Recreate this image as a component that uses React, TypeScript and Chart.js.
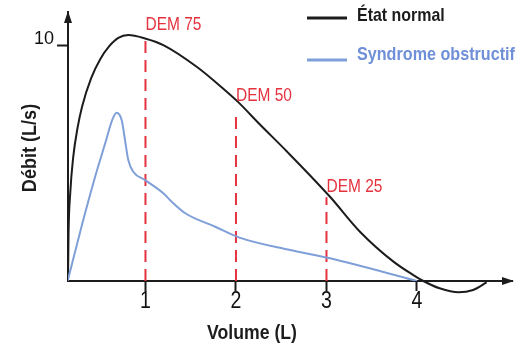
import React, { useEffect, useRef } from 'react';
import { Chart, registerables } from 'chart.js';

Chart.register(...registerables);

// Normal flow-volume curve (Volume L, Débit L/s)
const normalX = [0.144, 0.15, 0.17, 0.2, 0.25, 0.3, 0.4, 0.5, 0.6, 0.7, 0.81, 0.995, 1.197, 1.566, 1.86, 2.025, 2.265, 2.56, 3.039, 3.37, 3.74, 3.96, 4.07, 4.25, 4.46, 4.62, 4.77];
const normalY = [0, 2.0, 3.8, 5.2, 6.5, 7.4, 8.6, 9.4, 9.95, 10.3, 10.42, 10.28, 10.0, 9.08, 8.15, 7.58, 6.63, 5.5, 3.57, 2.09, 0.82, 0.25, 0, -0.31, -0.48, -0.38, -0.06];

// Obstructive syndrome curve
const obstrX = [0.14, 0.3, 0.45, 0.56, 0.63, 0.68, 0.737, 0.774, 0.81, 0.865, 0.995, 1.197, 1.29, 1.44, 1.77, 2.03, 2.6, 3.04, 4.0];
const obstrY = [0, 2.4, 4.5, 5.9, 6.8, 7.13, 6.82, 5.97, 5.13, 4.63, 4.28, 3.72, 3.36, 2.87, 2.3, 1.85, 1.31, 0.96, 0];

// DEM markers
const demLabels = ['DEM 75', 'DEM 50', 'DEM 25'];
const demX = [1, 2, 3];
const demTopY = [10.25, 7.25, 3.55];
const demLabelY = [10.64, 7.64, 3.78];

// Axis ticks
const xTicks = [1, 2, 3, 4];
const yTicks = [10];

const legendLabels = ['État normal', 'Syndrome obstructif'];
const xTitle = 'Volume (L)';
const yTitle = 'Débit (L/s)';

const FONT = "'Liberation Sans', Arial, sans-serif";
const BLACK = '#1c1c1c';
const BLUE = '#7f9fd9';
const BLUE_TEXT = '#6f8fd8';
const RED = '#e5323f';

function drawText(
  ctx: CanvasRenderingContext2D,
  text: string,
  x: number,
  y: number,
  font: string,
  color: string,
  align: CanvasTextAlign,
  baseline: CanvasTextBaseline,
  sx: number,
  rotate = 0
) {
  ctx.save();
  ctx.translate(x, y);
  if (rotate) ctx.rotate(rotate);
  ctx.scale(sx, 1);
  ctx.font = font;
  ctx.fillStyle = color;
  ctx.textAlign = align;
  ctx.textBaseline = baseline;
  ctx.fillText(text, 0, 0);
  ctx.restore();
}

export default function App() {
  const ref = useRef<HTMLCanvasElement | null>(null);

  useEffect(() => {
    if (!ref.current) return;
    const demDatasets = demX.map((x, i) => ({
      label: demLabels[i],
      data: [{ x, y: 0 }, { x, y: demTopY[i] }],
      borderColor: RED,
      borderWidth: 2,
      borderDash: [12, 7],
      pointRadius: 0,
      order: 3,
    }));

    const overlay = {
      id: 'overlay',
      afterDraw(chart: any) {
        const ctx = chart.ctx as CanvasRenderingContext2D;
        const xs = chart.scales.x;
        const ys = chart.scales.y;
        const ca = chart.chartArea;
        ctx.save();
        // arrows
        ctx.fillStyle = BLACK;
        ctx.beginPath();
        ctx.moveTo(ca.left, ca.top - 1);
        ctx.lineTo(ca.left - 4, ca.top + 11);
        ctx.lineTo(ca.left + 4, ca.top + 11);
        ctx.closePath();
        ctx.fill();
        ctx.beginPath();
        ctx.moveTo(ca.right + 2, ca.bottom);
        ctx.lineTo(ca.right - 10, ca.bottom - 4);
        ctx.lineTo(ca.right - 10, ca.bottom + 4);
        ctx.closePath();
        ctx.fill();
        // tick labels
        xTicks.forEach((v) => {
          drawText(ctx, String(v), xs.getPixelForValue(v), ca.bottom + 21, `23px ${FONT}`, '#111', 'center', 'middle', 0.85);
        });
        yTicks.forEach((v) => {
          drawText(ctx, String(v), ca.left - 14, ys.getPixelForValue(v) - 1, `19px ${FONT}`, '#111', 'right', 'alphabetic', 0.95);
        });
        // DEM labels
        demX.forEach((x, i) => {
          drawText(ctx, demLabels[i], xs.getPixelForValue(x), ys.getPixelForValue(demLabelY[i]), `18px ${FONT}`, RED, 'left', 'alphabetic', 0.86);
        });
        // legend
        ctx.lineWidth = 3;
        ctx.strokeStyle = BLACK;
        ctx.beginPath();
        ctx.moveTo(307, 18);
        ctx.lineTo(347, 18);
        ctx.stroke();
        ctx.strokeStyle = BLUE;
        ctx.beginPath();
        ctx.moveTo(307, 60);
        ctx.lineTo(347, 60);
        ctx.stroke();
        drawText(ctx, legendLabels[0], 357, 21, `bold 19px ${FONT}`, BLACK, 'left', 'alphabetic', 0.84);
        drawText(ctx, legendLabels[1], 357, 60, `bold 19px ${FONT}`, BLUE_TEXT, 'left', 'alphabetic', 0.85);
        // titles
        drawText(ctx, xTitle, 252, 333, `bold 21px ${FONT}`, BLACK, 'center', 'middle', 0.84);
        drawText(ctx, yTitle, 30, 148, `bold 21px ${FONT}`, BLACK, 'center', 'middle', 0.86, -Math.PI / 2);
        ctx.restore();
      },
    };

    const chart = new Chart(ref.current, {
      type: 'line',
      data: {
        datasets: [
          {
            label: legendLabels[1],
            data: obstrX.map((x, i) => ({ x, y: obstrY[i] })),
            borderColor: BLUE,
            borderWidth: 2,
            pointRadius: 0,
            cubicInterpolationMode: 'monotone',
            order: 1,
          },
          {
            label: legendLabels[0],
            data: normalX.map((x, i) => ({ x, y: normalY[i] })),
            borderColor: BLACK,
            borderWidth: 2,
            pointRadius: 0,
            cubicInterpolationMode: 'monotone',
            clip: false as any,
            order: 2,
          },
          ...demDatasets,
        ] as any,
      },
      options: {
        responsive: false,
        animation: false,
        layout: { padding: { top: 12, right: 9, left: 0, bottom: 0 } },
        plugins: { legend: { display: false }, tooltip: { enabled: false } },
        scales: {
          x: {
            type: 'linear',
            min: 0.144,
            max: 5.05,
            afterBuildTicks: (axis: any) => {
              axis.ticks = xTicks.map((v) => ({ value: v }));
            },
            afterFit: (axis: any) => {
              axis.height = 69;
            },
            grid: { drawOnChartArea: false, drawTicks: true, tickLength: 10, tickColor: BLACK, tickWidth: 2 },
            border: { display: true, color: BLACK, width: 2 },
            ticks: { display: false },
          },
          y: {
            type: 'linear',
            min: 0,
            max: 11.4,
            afterBuildTicks: (axis: any) => {
              axis.ticks = yTicks.map((v) => ({ value: v }));
            },
            afterFit: (axis: any) => {
              axis.width = 68;
            },
            grid: { drawOnChartArea: false, drawTicks: true, tickLength: 11, tickColor: BLACK, tickWidth: 2 },
            border: { display: true, color: BLACK, width: 2 },
            ticks: { display: false },
          },
        },
      } as any,
      plugins: [overlay],
    });
    return () => chart.destroy();
  }, []);

  return (
    <div style={{ position: 'fixed', left: 0, top: 0, width: 521, height: 350, background: '#fff' }}>
      <canvas ref={ref} width={521} height={350} style={{ width: 521, height: 350, display: 'block' }} />
    </div>
  );
}
